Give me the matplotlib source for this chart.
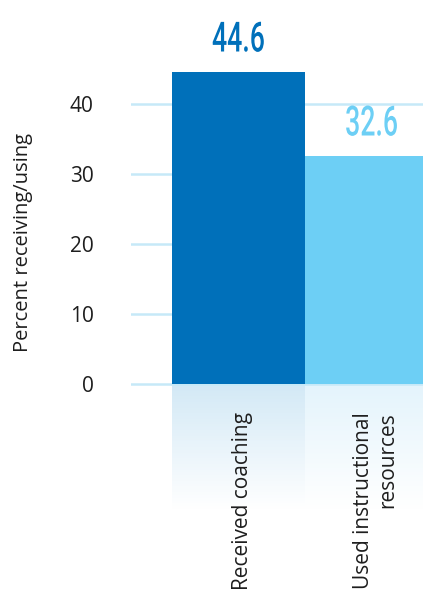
import numpy as np
import matplotlib
matplotlib.use('Agg')
import matplotlib.pyplot as plt
from matplotlib.colors import LinearSegmentedColormap
from matplotlib.patheffects import AbstractPathEffect
from matplotlib.transforms import Affine2D

CATEGORIES = ['Received coaching', 'Used instructional\nresources']
VALUES = [44.6, 32.6]
BAR_COLORS = ['#0070BA', '#6DCFF5']
FADE_COLORS = ['#D3E9F6', '#E4F4FC']
Y_TICKS = [0, 10, 20, 30, 40]

plt.rcParams['font.family'] = ['Open Sans', 'DejaVu Sans']


class Squeeze(AbstractPathEffect):
    """Narrow the glyphs horizontally around their own centre."""

    def __init__(self, sx):
        super().__init__()
        self.sx = sx

    def draw_path(self, renderer, gc, tpath, affine, rgbFace=None):
        bb = tpath.get_extents(affine)
        cx = (bb.x0 + bb.x1) / 2
        squeeze = Affine2D().translate(-cx, 0).scale(self.sx, 1).translate(cx, 0)
        renderer.draw_path(gc, tpath, affine + squeeze, rgbFace)


fig = plt.figure(figsize=(4.23, 5.90), dpi=100)
ax = fig.add_axes([131 / 423, 0, 292 / 423, 1])
ax.set_xlim(-0.808, 1.387)
ax.set_ylim(-206 / 7, 384 / 7)

x = np.arange(len(VALUES))
ax.bar(x, VALUES, width=1.0, color=BAR_COLORS, zorder=3)

# faded panels under the bars
grad = np.linspace(1, 0, 100).reshape(-1, 1)
for xi, c in zip(x, FADE_COLORS):
    cmap = LinearSegmentedColormap.from_list('fade', ['white', c])
    ax.imshow(grad, extent=[xi - 0.5, xi + 0.5, -18, 0], aspect='auto',
              cmap=cmap, vmin=0, vmax=1, zorder=1)

for t in Y_TICKS:
    ax.axhline(t, color='#C6E9F8', lw=1.8, zorder=2)

for xi, v, c in zip(x, VALUES, BAR_COLORS):
    ax.text(xi, v + 2.9, f'{v:.1f}', ha='center', va='baseline', color=c,
            fontsize=30, fontweight='medium', family=['Roboto', 'DejaVu Sans'],
            path_effects=[Squeeze(0.64)])

for xi, lab in zip(x, CATEGORIES):
    ax.text(xi + 0.03, -4, lab, rotation=90, ha='center', va='top',
            multialignment='right', fontsize=15, color='#1e1e1e')

ax.set_yticks(Y_TICKS)
ax.set_yticklabels([str(t) for t in Y_TICKS], fontsize=15, color='#1e1e1e')
ax.tick_params(axis='y', length=0, pad=27)
ax.set_xticks([])
for s in ax.spines.values():
    s.set_visible(False)

fig.text(23 / 423, 1 - 242 / 590, 'Percent receiving/using', rotation=90,
         ha='center', va='center', fontsize=14.5, color='#1e1e1e')

fig.savefig('out.png', dpi=100)
